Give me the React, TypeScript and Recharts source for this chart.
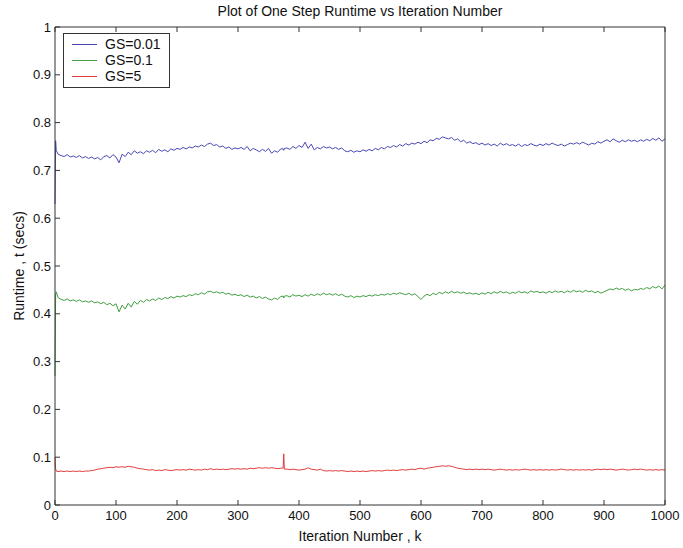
import { LineChart, Line, XAxis, YAxis, Legend } from "recharts";

// iteration numbers: first steps, every 5th, plus the two steps around the spike at 375
const every5 = (from: number, to: number) =>
  Array.from({ length: (to - from) / 5 + 1 }, (_, i) => from + i * 5);
const iterations = [0, 1, 2, ...every5(5, 370), 374, 375, 376, ...every5(380, 1000)];

const gs001 = [
  0.630, 0.762, 0.742,
  0.734, 0.731, 0.729, 0.733, 0.728, 0.730, 0.727, 0.731, 0.726, 0.729,
  0.725, 0.728, 0.724, 0.727, 0.722, 0.729, 0.731, 0.726, 0.733, 0.728,
  0.716, 0.734, 0.729, 0.738, 0.733, 0.741, 0.736, 0.739, 0.735, 0.741,
  0.738, 0.742, 0.737, 0.744, 0.740, 0.743, 0.739, 0.745, 0.742, 0.746,
  0.744, 0.748, 0.745, 0.749, 0.747, 0.751, 0.749, 0.753, 0.750, 0.755,
  0.757, 0.752, 0.754, 0.749, 0.751, 0.746, 0.749, 0.744, 0.747, 0.745,
  0.748, 0.744, 0.750, 0.741, 0.746, 0.743, 0.739, 0.744, 0.740, 0.746,
  0.736, 0.741, 0.738, 0.745, 0.745, 0.742, 0.746, 0.747, 0.744, 0.750, 0.746, 0.752,
  0.748, 0.759, 0.746, 0.755, 0.743, 0.748, 0.745, 0.750, 0.747, 0.749,
  0.745, 0.748, 0.744, 0.747, 0.741, 0.739, 0.742, 0.738, 0.741, 0.739,
  0.743, 0.740, 0.744, 0.741, 0.746, 0.743, 0.748, 0.745, 0.750, 0.748,
  0.752, 0.749, 0.754, 0.751, 0.756, 0.753, 0.757, 0.755, 0.759, 0.756,
  0.761, 0.758, 0.764, 0.762, 0.767, 0.765, 0.770, 0.768, 0.766, 0.769,
  0.763, 0.766, 0.760, 0.763, 0.757, 0.760, 0.756, 0.758, 0.754, 0.757,
  0.753, 0.756, 0.752, 0.755, 0.751, 0.757, 0.753, 0.756, 0.752, 0.754,
  0.751, 0.755, 0.750, 0.754, 0.752, 0.756, 0.753, 0.751, 0.755, 0.752,
  0.756, 0.753, 0.757, 0.754, 0.752, 0.755, 0.751, 0.754, 0.757, 0.755,
  0.758, 0.755, 0.759, 0.756, 0.753, 0.757, 0.755, 0.760, 0.757, 0.761,
  0.764, 0.760, 0.766, 0.762, 0.759, 0.763, 0.760, 0.764, 0.761, 0.763,
  0.760, 0.764, 0.761, 0.765, 0.762, 0.767, 0.763, 0.768, 0.761, 0.766,
];

const gs01 = [
  0.270, 0.440, 0.446,
  0.434, 0.430, 0.428, 0.431, 0.427, 0.429, 0.426, 0.429, 0.425, 0.427,
  0.424, 0.427, 0.423, 0.425, 0.421, 0.424, 0.419, 0.422, 0.417, 0.421,
  0.404, 0.418, 0.410, 0.422, 0.414, 0.426, 0.420, 0.428, 0.424, 0.430,
  0.427, 0.431, 0.428, 0.433, 0.430, 0.434, 0.432, 0.436, 0.433, 0.437,
  0.435, 0.438, 0.436, 0.440, 0.438, 0.442, 0.440, 0.444, 0.441, 0.446,
  0.447, 0.444, 0.446, 0.443, 0.445, 0.441, 0.443, 0.439, 0.441, 0.438,
  0.440, 0.436, 0.439, 0.435, 0.437, 0.433, 0.436, 0.432, 0.435, 0.431,
  0.429, 0.433, 0.430, 0.436, 0.437, 0.433, 0.437, 0.438, 0.435, 0.440, 0.437, 0.439,
  0.436, 0.440, 0.437, 0.441, 0.438, 0.442, 0.439, 0.443, 0.440, 0.442,
  0.439, 0.442, 0.438, 0.441, 0.437, 0.435, 0.438, 0.434, 0.437, 0.435,
  0.438, 0.436, 0.439, 0.437, 0.440, 0.438, 0.441, 0.439, 0.442, 0.440,
  0.443, 0.441, 0.444, 0.442, 0.440, 0.443, 0.439, 0.442, 0.436, 0.430,
  0.437, 0.441, 0.438, 0.443, 0.440, 0.445, 0.442, 0.446, 0.443, 0.447,
  0.444, 0.446, 0.443, 0.445, 0.442, 0.444, 0.441, 0.443, 0.440, 0.444,
  0.441, 0.445, 0.442, 0.446, 0.443, 0.447, 0.444, 0.446, 0.442, 0.445,
  0.443, 0.447, 0.444, 0.446, 0.443, 0.448, 0.445, 0.447, 0.444, 0.446,
  0.443, 0.447, 0.444, 0.448, 0.445, 0.447, 0.444, 0.448, 0.445, 0.449,
  0.446, 0.448, 0.445, 0.449, 0.446, 0.448, 0.444, 0.447, 0.443, 0.446,
  0.449, 0.452, 0.450, 0.454, 0.451, 0.453, 0.449, 0.452, 0.448, 0.451,
  0.450, 0.453, 0.451, 0.455, 0.452, 0.457, 0.454, 0.458, 0.452, 0.460,
];

const gs5 = [
  0.100, 0.076, 0.071,
  0.070, 0.071, 0.070, 0.071, 0.070, 0.071, 0.070, 0.071, 0.070, 0.071,
  0.071, 0.072, 0.073, 0.075, 0.076, 0.077, 0.078, 0.079, 0.078, 0.080,
  0.079, 0.080, 0.079, 0.081, 0.080, 0.079, 0.077, 0.076, 0.075, 0.074,
  0.073, 0.074, 0.072, 0.073, 0.072, 0.074, 0.073, 0.072, 0.073, 0.074,
  0.073, 0.074, 0.073, 0.075, 0.074, 0.073, 0.074, 0.073, 0.075, 0.074,
  0.076, 0.074, 0.075, 0.074, 0.075, 0.074, 0.075, 0.076, 0.075, 0.076,
  0.075, 0.076, 0.075, 0.077, 0.076, 0.077, 0.078, 0.077, 0.078, 0.077,
  0.078, 0.077, 0.076, 0.077, 0.077, 0.107, 0.075, 0.075, 0.074, 0.075, 0.074, 0.073,
  0.074, 0.075, 0.078, 0.075, 0.074, 0.073, 0.075, 0.072, 0.071, 0.072,
  0.071, 0.072, 0.071, 0.072, 0.071, 0.070, 0.071, 0.070, 0.071, 0.070,
  0.071, 0.070, 0.071, 0.072, 0.071, 0.072, 0.071, 0.072, 0.073, 0.072,
  0.073, 0.072, 0.073, 0.074, 0.073, 0.074, 0.075, 0.074, 0.076, 0.077,
  0.075, 0.077, 0.078, 0.079, 0.080, 0.081, 0.082, 0.081, 0.082, 0.081,
  0.079, 0.077, 0.076, 0.075, 0.074, 0.075, 0.074, 0.075, 0.074, 0.075,
  0.074, 0.075, 0.074, 0.073, 0.074, 0.075, 0.074, 0.073, 0.074, 0.073,
  0.074, 0.073, 0.074, 0.075, 0.074, 0.073, 0.074, 0.073, 0.074, 0.073,
  0.074, 0.073, 0.074, 0.073, 0.074, 0.075, 0.074, 0.073, 0.074, 0.073,
  0.074, 0.073, 0.074, 0.073, 0.074, 0.073, 0.074, 0.075, 0.074, 0.075,
  0.074, 0.075, 0.074, 0.073, 0.074, 0.075, 0.074, 0.073, 0.074, 0.075,
  0.074, 0.075, 0.074, 0.073, 0.074, 0.073, 0.074, 0.073, 0.074, 0.073,
];

const xTicks = [0, 100, 200, 300, 400, 500, 600, 700, 800, 900, 1000];
const yTicks = [0, 0.1, 0.2, 0.3, 0.4, 0.5, 0.6, 0.7, 0.8, 0.9, 1];

const series = [
  { key: "gs001", name: "GS=0.01", color: "#4848b4" },
  { key: "gs01", name: "GS=0.1", color: "#3f9f3f" },
  { key: "gs5", name: "GS=5", color: "#e23c3c" },
];

const data = iterations.map((k, i) => ({ k, gs001: gs001[i], gs01: gs01[i], gs5: gs5[i] }));

const FONT = "'Liberation Sans', Arial, sans-serif";
const AXIS = "#333";

function LegendBox({ payload }: any) {
  return (
    <div
      style={{
        border: `1px solid ${AXIS}`,
        background: "#fff",
        padding: "2px 0 3px 0",
        fontFamily: FONT,
        fontSize: 14,
        color: "#111",
      }}
    >
      {(payload || []).map((p: any) => (
        <div key={p.value} style={{ display: "flex", alignItems: "center", height: 16 }}>
          <span
            style={{
              display: "inline-block",
              width: 25,
              height: 0,
              borderTop: `1px solid ${p.color}`,
              margin: "0 8px 0 8px",
            }}
          />
          <span>{p.value}</span>
        </div>
      ))}
    </div>
  );
}

export default function App() {
  return (
    <div style={{ position: "absolute", left: 0, top: 0, width: 683, height: 548, background: "#fff" }}>
      <LineChart width={683} height={548} data={data} margin={{ top: 26, right: 17, bottom: 3, left: 10 }}>
        <XAxis
          xAxisId="b"
          dataKey="k"
          type="number"
          domain={[0, 1000]}
          ticks={xTicks}
          interval={0}
          height={40}
          tickSize={-5}
          tickMargin={11}
          stroke={AXIS}
          tick={{ fill: "#111", fontSize: 13, fontFamily: FONT }}
        />
        <XAxis
          xAxisId="t"
          orientation="top"
          dataKey="k"
          type="number"
          domain={[0, 1000]}
          ticks={xTicks}
          interval={0}
          height={1}
          tickSize={-5}
          stroke={AXIS}
          tickFormatter={() => ""}
        />
        <YAxis
          yAxisId="l"
          type="number"
          domain={[0, 1]}
          ticks={yTicks}
          interval={0}
          width={45}
          tickSize={-5}
          tickMargin={9}
          stroke={AXIS}
          tick={{ fill: "#111", fontSize: 13, fontFamily: FONT }}
        />
        <YAxis
          yAxisId="r"
          orientation="right"
          type="number"
          domain={[0, 1]}
          ticks={yTicks}
          interval={0}
          width={1}
          tickSize={-5}
          stroke={AXIS}
          tickFormatter={() => ""}
        />
        {series.map((s) => (
          <Line
            key={s.key}
            xAxisId="b"
            yAxisId="l"
            type="linear"
            dataKey={s.key}
            name={s.name}
            stroke={s.color}
            strokeWidth={1}
            dot={false}
            isAnimationActive={false}
          />
        ))}
        <Legend
          layout="vertical"
          align="center"
          verticalAlign="middle"
          content={<LegendBox />}
          wrapperStyle={{ left: 63, top: 33, width: 107 }}
        />
        <text x={360} y={16} textAnchor="middle" fontSize={14} fontFamily={FONT} fill="#111">
          Plot of One Step Runtime vs Iteration Number
        </text>
        <text x={360} y={541} textAnchor="middle" fontSize={14} fontFamily={FONT} fill="#111">
          Iteration Number , k
        </text>
        <text
          x={24}
          y={266}
          textAnchor="middle"
          fontSize={14}
          fontFamily={FONT}
          fill="#111"
          transform="rotate(-90 24 266)"
        >
          Runtime , t (secs)
        </text>
      </LineChart>
    </div>
  );
}
